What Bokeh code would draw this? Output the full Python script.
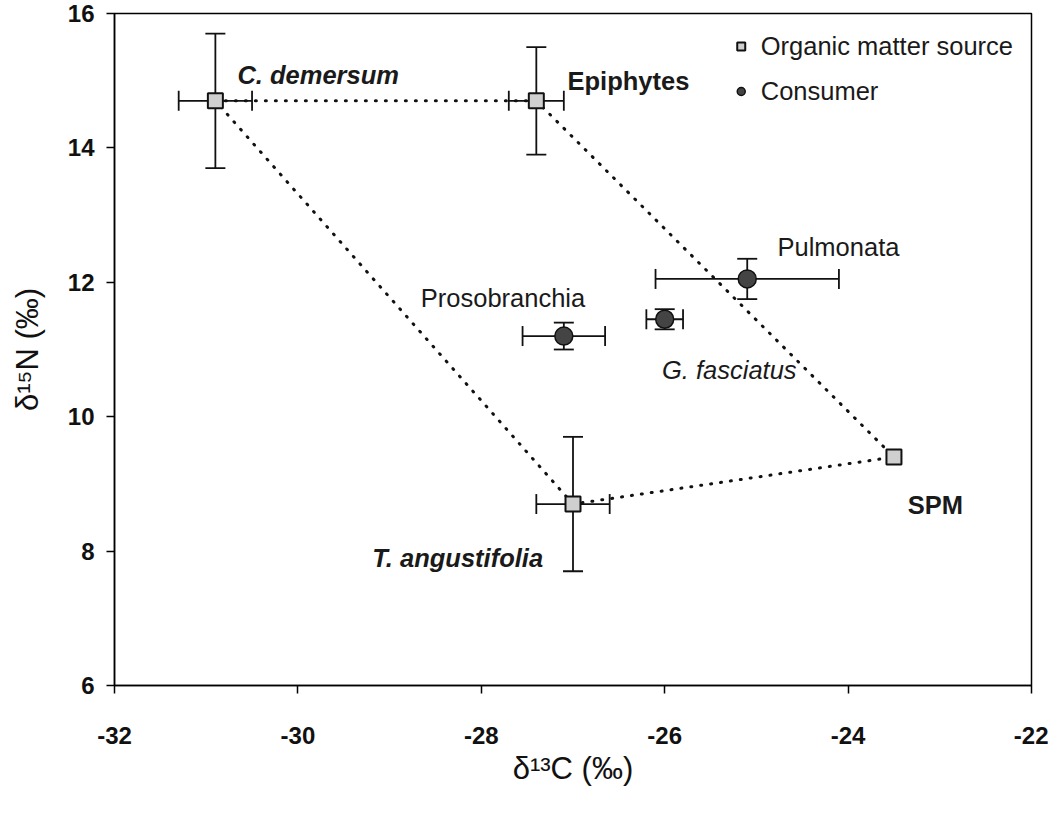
from bokeh.plotting import figure
from bokeh.models import (ColumnDataSource, Whisker, TeeHead, Legend, LegendItem, Range1d)
from bokeh.core.properties import value
from bokeh.embed import file_html
from bokeh.resources import INLINE

# ---- data ----
sources = ["C. demersum", "Epiphytes", "SPM", "T. angustifolia"]
src_x = [-30.9, -27.4, -23.5, -27.0]
src_y = [14.7, 14.7, 9.4, 8.7]
src_xerr = [0.4, 0.3, 0.0, 0.4]
src_yerr = [1.0, 0.8, 0.0, 1.0]

consumers = ["Prosobranchia", "G. fasciatus", "Pulmonata"]
con_x = [-27.1, -26.0, -25.1]
con_y = [11.2, 11.45, 12.05]
con_xerr = [0.45, 0.2, 1.0]
con_yerr = [0.2, 0.15, 0.3]

x_ticks = [-32, -30, -28, -26, -24, -22]
y_ticks = [6, 8, 10, 12, 14, 16]

# mixing polygon order (indices into sources)
poly_order = [0, 1, 2, 3, 0]

# label placement (positions) and styles
lab_text = ["C. demersum", "Epiphytes", "SPM", "T. angustifolia",
            "Prosobranchia", "G. fasciatus", "Pulmonata"]
lab_x = [-30.66, -27.06, -23.35, -29.19, -28.66, -26.03, -24.77]
lab_y = [15.09, 15.00, 8.69, 7.90, 11.77, 10.69, 12.52]
lab_style = ["bold italic", "bold", "bold", "bold italic", "normal", "italic", "normal"]

FONT = "Liberation Sans"
FS = "25.5px"

p = figure(width=1048, height=800, x_range=Range1d(-32, -22), y_range=Range1d(6, 16),
           output_backend="svg", toolbar_location=None,
           min_border_left=114, min_border_right=17, min_border_top=13, min_border_bottom=115)

p.xgrid.visible = False
p.ygrid.visible = False
p.outline_line_color = "black"
p.outline_line_width = 1.5
p.background_fill_color = "white"
p.border_fill_color = "white"

for ax in (p.xaxis, p.yaxis):
    ax.axis_line_color = "black"
    ax.axis_line_width = 1.5
    ax.major_tick_line_color = "black"
    ax.major_tick_line_width = 1.5
    ax.major_tick_out = 8
    ax.major_tick_in = 0
    ax.minor_tick_line_color = None
    ax.major_label_text_font = FONT
    ax.major_label_text_font_size = "24px"
    ax.major_label_text_font_style = "bold"
    ax.major_label_text_color = "#111111"
    ax.axis_label_text_font = FONT
    ax.axis_label_text_font_size = "31px"
    ax.axis_label_text_font_style = "normal"
    ax.axis_label_text_color = "#111111"

p.xaxis.ticker = x_ticks
p.yaxis.ticker = y_ticks
p.xaxis.major_label_overrides = {t: str(t) for t in x_ticks}
p.yaxis.major_label_overrides = {t: str(t) for t in y_ticks}
p.xaxis.major_label_standoff = 33
p.yaxis.major_label_standoff = 12
p.xaxis.axis_label = "δ¹³C (‰)"
p.yaxis.axis_label = "δ¹⁵N (‰)"
p.xaxis.axis_label_standoff = 4
p.yaxis.axis_label_standoff = 20

# ---- error bars ----
def add_whiskers(xs, ys, xe, ye):
    vb, vu, vl, hb, hu, hl = [], [], [], [], [], []
    for x, y, ex, ey in zip(xs, ys, xe, ye):
        if ey > 0:
            vb.append(x); vu.append(y + ey); vl.append(y - ey)
        if ex > 0:
            hb.append(y); hu.append(x + ex); hl.append(x - ex)
    vs = ColumnDataSource(dict(base=vb, upper=vu, lower=vl))
    hs = ColumnDataSource(dict(base=hb, upper=hu, lower=hl))
    for src, dim in ((vs, "height"), (hs, "width")):
        w = Whisker(source=src, base="base", upper="upper", lower="lower", dimension=dim,
                    line_color="#111111", line_width=1.8, level="underlay",
                    upper_head=TeeHead(size=20, line_color="#111111", line_width=1.8),
                    lower_head=TeeHead(size=20, line_color="#111111", line_width=1.8))
        p.add_layout(w)

add_whiskers(src_x, src_y, src_xerr, src_yerr)
add_whiskers(con_x, con_y, con_xerr, con_yerr)

# ---- dotted mixing polygon ----
p.line([src_x[i] for i in poly_order], [src_y[i] for i in poly_order],
       line_color="#111111", line_width=3, line_dash="1 9", line_cap="round")

# ---- markers ----
sq = p.scatter(src_x, src_y, marker="square", size=15, fill_color="#cfcfcf",
               line_color="#111111", line_width=2)
ci = p.scatter(con_x, con_y, marker="circle", size=18, fill_color="#444444",
               line_color="#111111", line_width=1.5)

# ---- labels ----
for t, x, y, s in zip(lab_text, lab_x, lab_y, lab_style):
    p.text(x=[x], y=[y], text=[t], text_font=value(FONT), text_font_size=FS,
           text_font_style=s, text_color="#1a1a1a", text_align="left",
           text_baseline="alphabetic")

legend = Legend(items=[LegendItem(label="Organic matter source", renderers=[sq]),
                       LegendItem(label="Consumer", renderers=[ci])],
                location="top_right", margin=18, padding=17,
                border_line_color=None, background_fill_alpha=0,
                label_text_font=FONT, label_text_font_size=FS,
                label_text_color="#1a1a1a",
                glyph_width=20, glyph_height=30, label_height=30, spacing=15,
                label_standoff=10)
p.add_layout(legend)

open("out.html", "w").write(file_html(p, INLINE))
